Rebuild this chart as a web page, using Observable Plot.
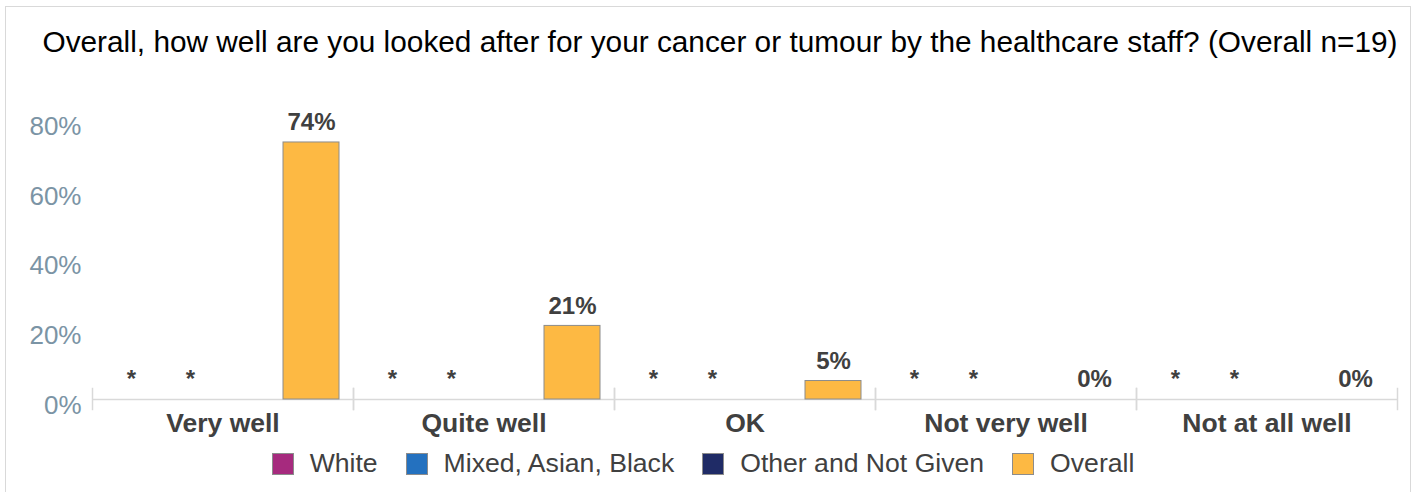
<!DOCTYPE html>
<html>
<head>
<meta charset="utf-8">
<script src="https://cdn.jsdelivr.net/npm/d3@7"></script>
<script src="https://cdn.jsdelivr.net/npm/@observablehq/plot@0.6"></script>
<style>
  html, body { margin: 0; padding: 0; background: #fff; overflow: hidden; }
  body { font-family: "Liberation Sans", Arial, sans-serif; padding: 6px 0 0 5px; }
  .box { width: 1404px; height: 520px; border: 1px solid #d9d9d9; border-bottom: none; }
  .title { margin-top: 20px; height: 30px; line-height: 30px; font-size: 29.8px; color: #000; text-align: center; padding-left: 24px; white-space: nowrap; }
  #chart svg { display: block; }
  .legend { display: flex; justify-content: center; align-items: center; gap: 28px; margin-top: 5px; height: 23px; padding-right: 10px; font-size: 26.6px; color: #404040; }
  .legend .item { display: flex; align-items: center; gap: 16px; }
  .legend .sw { width: 22px; height: 22px; border: 1px solid #8c8c8c; box-sizing: border-box; }
</style>
</head>
<body>
<div class="box">
  <div class="title">Overall, how well are you looked after for your cancer or tumour by the healthcare staff? (Overall n=19)</div>
  <div id="chart"></div>
  <div class="legend" id="legend"></div>
</div>
<script>
const categories = ["Very well", "Quite well", "OK", "Not very well", "Not at all well"];
const seriesNames = ["White", "Mixed, Asian, Black", "Other and Not Given", "Overall"];
const seriesColors = ["#a62a7e", "#2471bf", "#1f2b66", "#fdb943"];

const whiteValues = [null, null, null, null, null];
const whiteLabels = ["*", "*", "*", "*", "*"];
const mixedValues = [null, null, null, null, null];
const mixedLabels = ["*", "*", "*", "*", "*"];
const otherValues = [null, null, null, null, null];
const otherLabels = ["", "", "", "", ""];
const overallValues = [0.737, 0.211, 0.053, 0, 0];
const overallLabels = ["74%", "21%", "5%", "0%", "0%"];

const yTicks = [0, 0.2, 0.4, 0.6, 0.8];

const seriesData = [
  [whiteValues, whiteLabels],
  [mixedValues, mixedLabels],
  [otherValues, otherLabels],
  [overallValues, overallLabels]
];
const rows = [];
seriesData.forEach(([vals, labs], si) => {
  categories.forEach((c, ci) => {
    rows.push({category: c, series: seriesNames[si], value: vals[ci], label: labs[ci]});
  });
});
const bars = rows.filter(d => d.value != null && d.value > 0);
const valueLabels = rows.filter(d => d.value != null && d.label);
const starLabels = rows.filter(d => d.value == null && d.label);

const font = "'Liberation Sans', Arial, sans-serif";

const chart = Plot.plot({
  width: 1404,
  height: 390,
  marginLeft: 85,
  marginRight: 13,
  marginTop: 63,
  marginBottom: 38,
  style: {fontFamily: font, background: "transparent"},
  fx: {domain: categories, padding: 0, label: null},
  x: {domain: seriesNames, paddingInner: 0.05, paddingOuter: 0.2, axis: null},
  y: {domain: [0, 0.8], insetBottom: 10, axis: null},
  color: {domain: seriesNames, range: seriesColors},
  marks: [
    Plot.ruleY([0], {stroke: "#d9d9d9", strokeWidth: 1.5}),
    Plot.frame({anchor: "left", stroke: "#d9d9d9", strokeWidth: 1.5, insetTop: 268}),
    Plot.frame({anchor: "right", stroke: "#d9d9d9", strokeWidth: 1.5, insetTop: 268}),
    Plot.barY(bars, {fx: "category", x: "series", y: "value", fill: "series", stroke: "#8c8c8c", strokeWidth: 1}),
    Plot.text(valueLabels, {fx: "category", x: "series", y: "value", text: "label", lineAnchor: "middle", dy: -20, fontSize: 24, fontWeight: "bold", fill: "#404040"}),
    Plot.text(starLabels, {fx: "category", x: "series", y: () => 0, text: "label", lineAnchor: "middle", dy: -20, dx: -3, fontSize: 24, fontWeight: "bold", fill: "#404040"}),
    Plot.axisY({ticks: yTicks, tickFormat: d3.format(".0%"), tickSize: 0, tickPadding: 11, fontSize: 26, fill: "#7b94a5", dy: 6, label: null}),
    Plot.axisFx({anchor: "bottom", tickSize: 0, tickPadding: 4, fontSize: 26.5, fontWeight: "bold", fill: "#404040", label: null})
  ]
});
document.getElementById("chart").appendChild(chart);

const legend = document.getElementById("legend");
seriesNames.forEach((name, i) => {
  const item = document.createElement("div");
  item.className = "item";
  const sw = document.createElement("div");
  sw.className = "sw";
  sw.style.background = seriesColors[i];
  const label = document.createElement("span");
  label.textContent = name;
  item.appendChild(sw);
  item.appendChild(label);
  legend.appendChild(item);
});
</script>
</body>
</html>
